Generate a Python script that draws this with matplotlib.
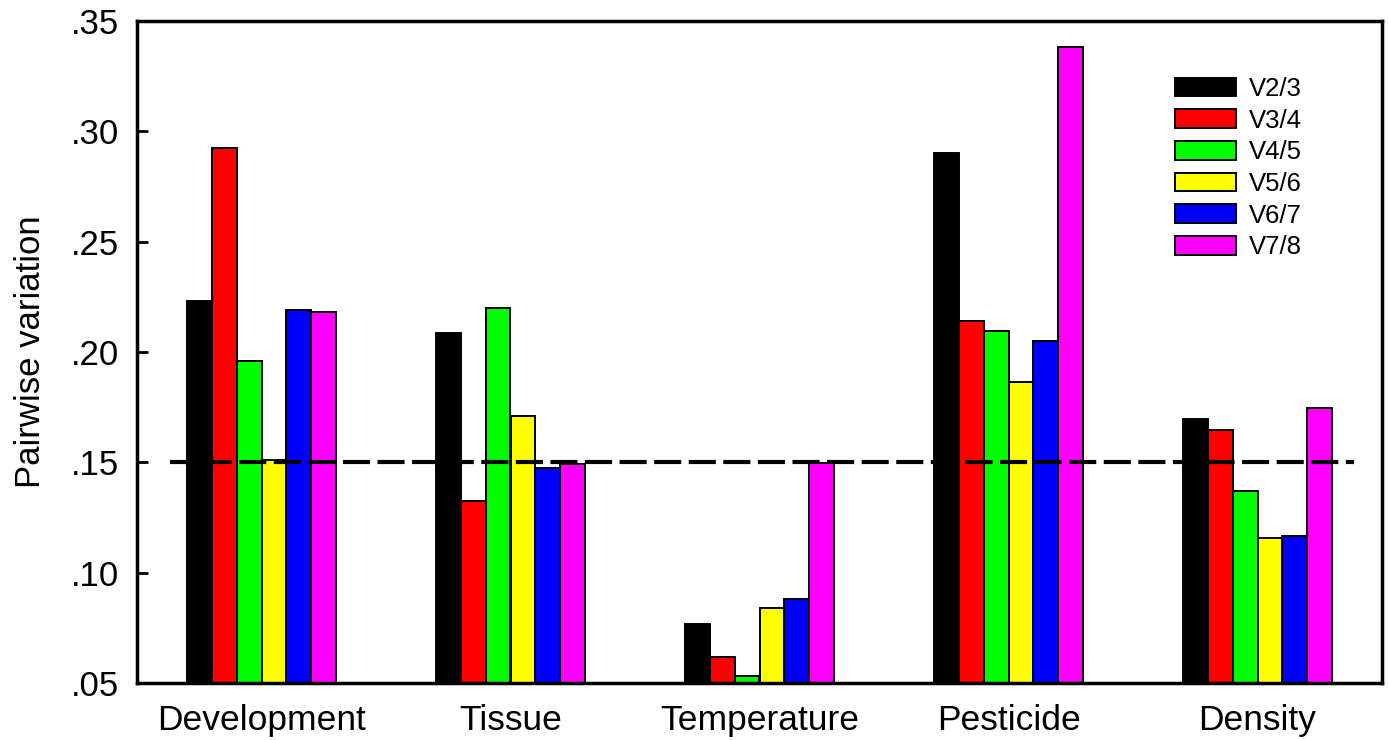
import matplotlib
matplotlib.use("Agg")
import matplotlib.pyplot as plt
import numpy as np

categories = ["Development", "Tissue", "Temperature", "Pesticide", "Density"]
series_names = ["V2/3", "V3/4", "V4/5", "V5/6", "V6/7", "V7/8"]
v23 = [0.2230, 0.2086, 0.0766, 0.2904, 0.1698]
v34 = [0.2926, 0.1326, 0.0618, 0.2139, 0.1645]
v45 = [0.1960, 0.2198, 0.0530, 0.2093, 0.1369]
v56 = [0.1510, 0.1712, 0.0838, 0.1863, 0.1157]
v67 = [0.2190, 0.1473, 0.0879, 0.2052, 0.1168]
v78 = [0.2180, 0.1491, 0.1496, 0.3380, 0.1746]
threshold = 0.15
yticks = [0.05, 0.10, 0.15, 0.20, 0.25, 0.30, 0.35]
ytick_labels = [".05", ".10", ".15", ".20", ".25", ".30", ".35"]

colors = ["#000000", "#FF0000", "#00FF00", "#FFFF00", "#0000FF", "#FF00FF"]

plt.rcParams['font.family'] = ['Liberation Sans', 'DejaVu Sans']

fig = plt.figure(figsize=(13.88, 7.40), dpi=100)
ax = fig.add_axes([137/1388, 1-683/740, (1382-137)/1388, (683-21)/740])

base = 0.05
x = np.arange(len(categories))
width = 0.1
all_series = [v23, v34, v45, v56, v67, v78]
for i, (vals, c, name) in enumerate(zip(all_series, colors, series_names)):
    heights = np.array(vals) - base
    ax.bar(x + (i - 2.5) * width, heights, width=width, bottom=base,
           color=c, edgecolor="black", linewidth=1.4, label=name, zorder=2)

ax.axhline(threshold, xmin=(170-137)/1245, xmax=(1354-137)/1245,
           color="black", linewidth=3, dashes=(6.5, 1.8), zorder=3)

ax.set_xlim(-0.5, 4.5)
ax.set_ylim(0.05, 0.35)
ax.set_yticks(yticks)
ax.set_yticklabels(ytick_labels)
ax.set_xticks(x)
ax.set_xticklabels(categories)
ax.tick_params(axis='y', direction='in', length=8, width=2, labelsize=25, pad=13)
ax.tick_params(axis='x', length=0, labelsize=25.5, pad=15)
for s in ax.spines.values():
    s.set_linewidth(2.5)
ax.set_ylabel("Pairwise variation", fontsize=25, labelpad=17)

leg = ax.legend(loc='upper left', bbox_to_anchor=(0.8236, 0.935), frameon=False,
                fontsize=18.5, handlelength=2.35, handleheight=0.75,
                labelspacing=0.3, handletextpad=0.5, borderpad=0)

fig.savefig("out.png", dpi=100)
